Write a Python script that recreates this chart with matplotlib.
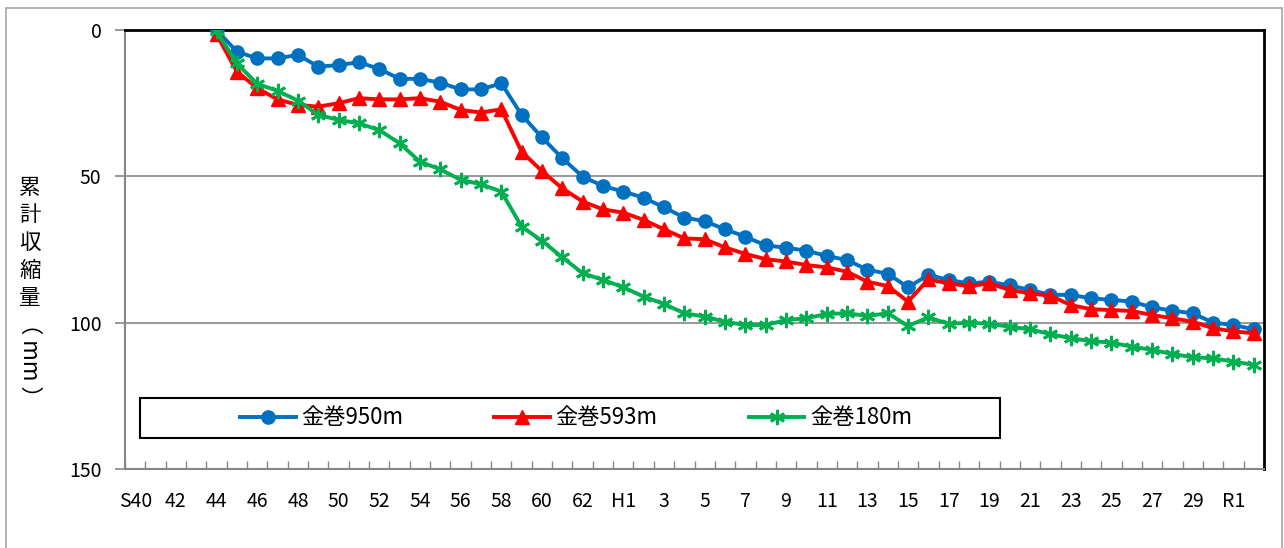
import numpy as np
import matplotlib
matplotlib.use('Agg')
from matplotlib import pyplot as plt
from matplotlib.patches import Rectangle

plt.rcParams['font.family'] = ['Noto Sans CJK JP', 'DejaVu Sans']

# years S40 .. S63, H1 .. H30, R1, R2
years = ['S%d' % y for y in range(40, 64)] + ['H%d' % y for y in range(1, 31)] + ['R1', 'R2']
tick_labels = ['S40'] + [str(y) for y in range(42, 64, 2)] + ['H1'] + \
    [str(y) for y in range(3, 31, 2)] + ['R1']

# cumulative shrinkage (mm), from S44
kanamaki_950 = [0, 7.4, 9.7, 9.7, 8.5, 12.5, 12.0, 11.0, 13.3, 16.7, 16.7, 18.0, 20.3, 20.3,
                18.2, 29.0, 36.7, 43.8, 50.1, 53.3, 55.2, 57.3, 60.6, 64.1, 65.3, 68.1, 70.6,
                73.6, 74.4, 75.4, 77.2, 78.6, 81.9, 83.3, 87.9, 83.7, 85.4, 86.6, 86.0, 87.3,
                88.8, 90.5, 90.5, 91.7, 92.2, 92.8, 94.8, 95.9, 96.8, 100.0, 100.8, 102.3]
kanamaki_593 = [1.5, 14.2, 19.9, 23.7, 25.6, 26.2, 25.0, 23.3, 23.7, 23.7, 23.3, 24.5, 27.3,
                28.2, 27.1, 41.6, 48.2, 54.1, 58.6, 61.3, 62.4, 64.9, 68.1, 71.2, 71.5, 74.3,
                76.5, 78.3, 79.1, 80.3, 81.1, 82.6, 86.0, 87.5, 92.8, 85.2, 86.6, 87.5, 86.6,
                88.8, 90.0, 90.8, 94.0, 95.4, 95.7, 96.0, 97.4, 98.5, 99.7, 101.9, 103.0, 103.6]
kanamaki_180 = [0.5, 11.4, 18.4, 20.8, 24.1, 29.0, 30.7, 31.9, 34.2, 38.7, 45.0, 47.6, 51.2,
                52.7, 55.2, 67.2, 72.0, 77.7, 83.1, 85.4, 87.9, 91.1, 93.6, 96.8, 97.9, 99.7,
                100.8, 100.8, 99.1, 98.5, 97.0, 96.8, 97.7, 96.8, 101.1, 98.2, 100.4, 100.0,
                100.4, 101.4, 102.3, 103.9, 105.3, 106.3, 106.8, 108.2, 109.3, 110.7, 111.8,
                112.2, 113.3, 114.4]

fig = plt.figure(figsize=(12.84, 5.48), dpi=100)
fig.patches.append(Rectangle((6 / 1284, -0.05), 1276 / 1284, 1.05 - 8 / 548,
                             transform=fig.transFigure, fill=False,
                             edgecolor='#a6a6a6', linewidth=1.2))
ax = fig.add_axes([125 / 1284, 1 - 469 / 548, 1139 / 1284, 439 / 548])

x = np.arange(len(years))
start = years.index('S44')
xs = x[start:]
ax.plot(xs, kanamaki_950, color='#0070C0', lw=2.8, marker='o', ms=9.5,
        label='金巻950m', zorder=3)
ax.plot(xs, kanamaki_593, color='#FF0000', lw=2.8, marker='^', ms=10,
        label='金巻593m', zorder=4)
ax.plot(xs, kanamaki_180, color='#00B050', lw=2.8, marker=(6, 2, 0), ms=11, mew=2,
        label='金巻180m', zorder=5)

ax.set_xlim(-0.5, len(years) - 0.5)
ax.set_ylim(150, 0)
ax.set_yticks([0, 50, 100, 150])
ax.yaxis.grid(True, color='#868686', lw=1.2)
ax.set_axisbelow(True)

ax.set_xticks(x[::2])
ax.set_xticklabels(tick_labels)
ax.set_xticks(np.arange(-0.5, len(years), 1), minor=True)
ax.tick_params(axis='x', which='major', length=0, pad=16, labelsize=14)
ax.tick_params(axis='x', which='minor', direction='in', length=6, color='#868686', width=1)
ax.tick_params(axis='y', length=7, color='#868686', width=1.2, labelsize=14, pad=10)

for side in ['left', 'bottom']:
    ax.spines[side].set_color('#868686')
    ax.spines[side].set_linewidth(1.5)
for side in ['top', 'right']:
    ax.spines[side].set_color('black')
    ax.spines[side].set_linewidth(2)

# vertical y label
for i, ch in enumerate('累計収縮量'):
    fig.text(30 / 1284, 1 - (188 + i * 27.5) / 548, ch, fontsize=15.5, ha='center',
             va='center')
fig.text(30 / 1284, 1 - 360 / 548, '（ mm ）', fontsize=16, rotation=-90,
         ha='center', va='center')

# legend box
ax.add_patch(Rectangle((15 / 1139, 31 / 439), 860 / 1139, 40 / 439, transform=ax.transAxes,
                       fill=True, facecolor='white', edgecolor='black', lw=1.5, zorder=6))
leg = ax.legend(loc='center', bbox_to_anchor=(451 / 1139, 51 / 439), ncol=3, frameon=False,
                fontsize=16, handlelength=2.5, handletextpad=0.25, columnspacing=4.1,
                borderaxespad=0)
leg.set_zorder(7)

fig.savefig('out.png', dpi=100)
